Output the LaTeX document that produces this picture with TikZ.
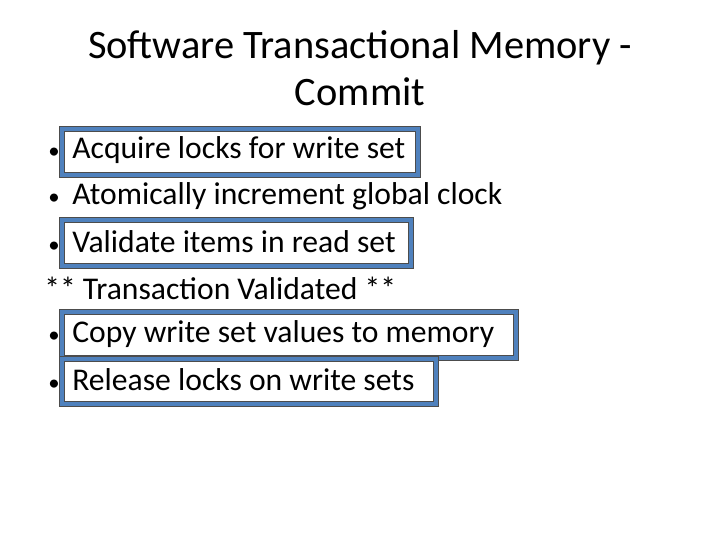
\documentclass[tikz,border=0pt]{standalone}
\usepackage{fontspec}
\setmainfont{Carlito}
\definecolor{boxblue}{RGB}{79,129,189}
\newcommand{\bul}{\makebox[0.48cm][l]{\fontsize{13}{13}\selectfont•}}
\begin{document}
\begin{tikzpicture}[x=0.02cm,y=-0.02cm,
	hilite/.style={draw=black!70, double=boxblue, double distance=2.6pt, line width=0.5pt},
	item/.style={anchor=west, font=\fontsize{18}{21}\selectfont, inner sep=0pt}]
	\useasboundingbox (0,0) rectangle (720,540);
	\node[align=center, font=\fontsize{23}{27}\selectfont] (title) at (360,68) {Software Transactional Memory -\\Commit};
	% highlight boxes
	\draw[hilite] (62,129) rectangle (418,175);
	\draw[hilite] (62,220) rectangle (411,266);
	\draw[hilite] (62,312) rectangle (516,358);
	\draw[hilite] (62,359) rectangle (436,404);
	% bullet items
	\node[item] (acquire) at (48,150) {\bul Acquire locks for write set};
	\node[item] (atomic) at (48,196) {\bul Atomically increment global clock};
	\node[item] (validate) at (48,242) {\bul Validate items in read set};
	\node[item] (valid) at (44,288) {** Transaction Validated **};
	\node[item] (copy) at (48,334) {\bul Copy write set values to memory};
	\node[item] (release) at (48,380) {\bul Release locks on write sets};
\end{tikzpicture}
\end{document}
